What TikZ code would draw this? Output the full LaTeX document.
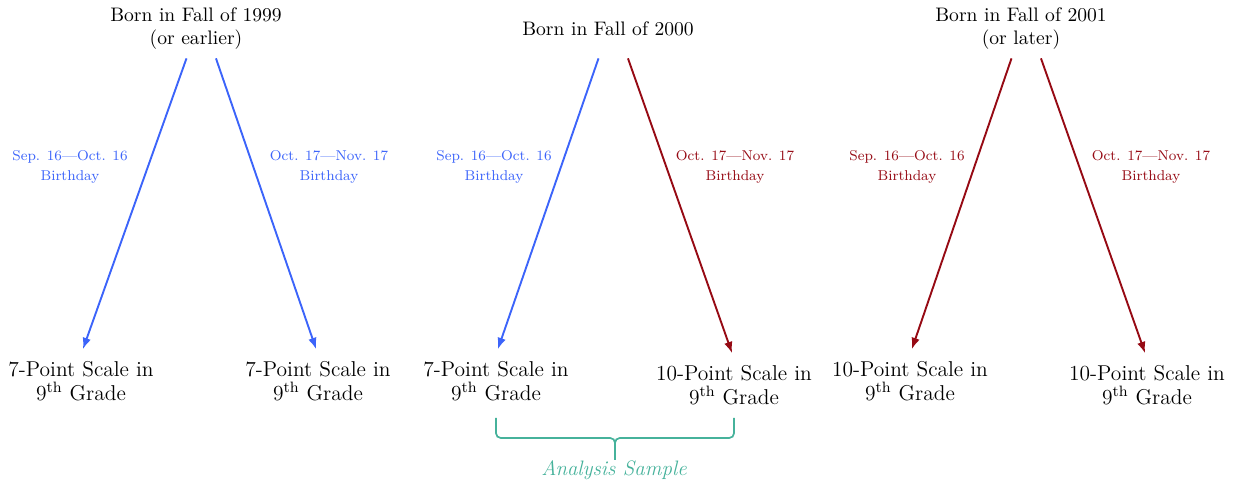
\documentclass[tikz,border=0pt]{standalone}
\usepackage{tikz}
\usetikzlibrary{arrows.meta,positioning,calc}
\definecolor{scaleblue}{RGB}{60,100,250}
\definecolor{scalered}{RGB}{150,10,20}
\definecolor{sampleteal}{RGB}{70,178,155}
\tikzset{
  cohortnode/.style={align=center,minimum height=30.5pt,inner sep=3pt,
    font=\fontsize{10.3}{12.1}\selectfont},
  outcomenode/.style={align=center,inner sep=3.3pt,
    font=\fontsize{11.3}{12.6}\selectfont},
  bluelabel/.style={align=center,font=\fontsize{7.5}{10.5}\selectfont,text=scaleblue},
  redlabel/.style={align=center,font=\fontsize{7.5}{10.5}\selectfont,text=scalered},
  bluearrow/.style={-{Latex[length=6pt,width=4.5pt]},line width=1pt,scaleblue,shorten >=3pt},
  redarrow/.style={-{Latex[length=6pt,width=4.5pt]},line width=1pt,scalered,shorten >=3pt},
  samplebrace/.style={line width=0.9pt,sampleteal,rounded corners=2.5pt},
}

\begin{document}
\begin{tikzpicture}[x=0.5263pt,y=-0.5263pt]
  \useasboundingbox (0,0) rectangle (1236,485);

  \node[cohortnode] (c1) at (196,29) {Born in Fall of 1999\\(or earlier)};
  \node[cohortnode] (c2) at (608,29) {Born in Fall of 2000};
  \node[cohortnode] (c3) at (1021,29) {Born in Fall of 2001\\(or later)};

  \node[outcomenode] (o1) at (81,381) {7-Point Scale in\\9\textsuperscript{th} Grade};
  \node[outcomenode] (o2) at (318,381) {7-Point Scale in\\9\textsuperscript{th} Grade};
  \node[outcomenode] (o3) at (496,381) {7-Point Scale in\\9\textsuperscript{th} Grade};
  \node[outcomenode] (o4) at (734,385) {10-Point Scale in\\9\textsuperscript{th} Grade};
  \node[outcomenode] (o5) at (910,381) {10-Point Scale in\\9\textsuperscript{th} Grade};
  \node[outcomenode] (o6) at (1147,385) {10-Point Scale in\\9\textsuperscript{th} Grade};

  \draw[bluearrow] ([xshift=-5pt]c1.south) -- (o1.north);
  \draw[bluearrow] ([xshift=10.5pt]c1.south) -- (o2.north);
  \draw[bluearrow] ([xshift=-5pt]c2.south) -- (o3.north);
  \draw[redarrow] ([xshift=10.5pt]c2.south) -- (o4.north);
  \draw[redarrow] ([xshift=-5pt]c3.south) -- (o5.north);
  \draw[redarrow] ([xshift=10.5pt]c3.south) -- (o6.north);

  \node[bluelabel] (l1) at (70,167) {Sep. 16---Oct. 16\\Birthday};
  \node[bluelabel] (r1) at (329,167) {Oct. 17---Nov. 17\\Birthday};
  \node[bluelabel] (l2) at (494,167) {Sep. 16---Oct. 16\\Birthday};
  \node[redlabel] (r2) at (735,167) {Oct. 17---Nov. 17\\Birthday};
  \node[redlabel] (l3) at (907,167) {Sep. 16---Oct. 16\\Birthday};
  \node[redlabel] (r3) at (1151,167) {Oct. 17---Nov. 17\\Birthday};

  \coordinate (bl) at (o3.south |- 0,418);
  \coordinate (br) at (o4.south |- 0,418);
  \coordinate (bmid) at ($(bl)!0.5!(br)+(0,20)$);
  \coordinate (btip) at ($(bmid)+(0,22)$);
  \draw[samplebrace] (bl) -- (bl |- bmid) -- (bmid) -- (btip);
  \draw[samplebrace] (br) -- (br |- bmid) -- (bmid) -- (btip);
  \node[text=sampleteal,font=\fontsize{11}{13}\selectfont\itshape] (sample) at (614,470) {Analysis Sample};
\end{tikzpicture}
\end{document}
